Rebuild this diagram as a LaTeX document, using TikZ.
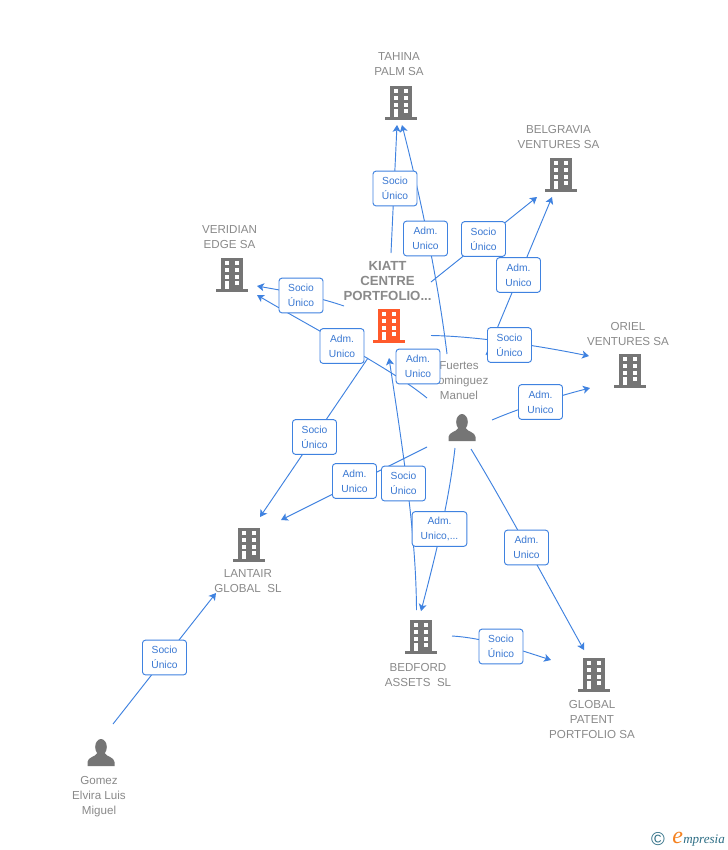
\documentclass[tikz,border=0pt]{standalone}
\usepackage{fontspec}
\setmainfont{Liberation Sans}
\newfontfamily\logofont{Liberation Serif}
\usetikzlibrary{arrows.meta}
\pgfdeclarelayer{back}
\pgfsetlayers{back,main}
\definecolor{linkblue}{HTML}{3F82E0}
\definecolor{labelblue}{HTML}{3A78D2}
\definecolor{icongrey}{HTML}{757575}
\definecolor{textgrey}{HTML}{8A8A8A}
\definecolor{hotorange}{HTML}{FF5A2B}
\definecolor{logoteal}{HTML}{2F6F86}
\definecolor{logoorange}{HTML}{F58220}
\tikzset{
  x=0.75pt,y=-0.75pt,
  conn/.style={draw=linkblue,line width=0.7pt},
  arrowconn/.style={conn,-{Stealth[length=5.2pt,width=6pt,inset=1.3pt]}},
  labelbox/.style={draw=linkblue,line width=0.7pt,fill=white,rounded corners=2.2pt,
    minimum width=33pt,minimum height=26pt,inner sep=0pt,align=center,
    text=labelblue,font=\fontsize{7.7}{11.2}\selectfont},
  widebox/.style={labelbox,minimum width=41pt},
  nametext/.style={align=center,text=textgrey,inner sep=0pt,font=\fontsize{8.7}{11.25}\selectfont},
  hotname/.style={align=center,text=textgrey,inner sep=0pt,font=\fontsize{9.9}{11.3}\selectfont\bfseries},
  bldg/.pic={
    \fill[pic actions] (-16,-3) rectangle (16,0);
    \fill[pic actions] (-11,-34.5) rectangle (11,-1);
    \foreach \yy in {-31,-24,-17}{
      \fill[white] (-7.5,\yy) rectangle (-3,\yy+4);
      \fill[white] (2.5,\yy) rectangle (7,\yy+4);
    }
    \fill[white] (2.5,-11) rectangle (7,-7);
    \fill[white] (-7.5,-11.5) rectangle (-3,-3);
  },
  personicon/.pic={
    \fill[pic actions] (0,-19) ellipse (5.8 and 8);
    \fill[pic actions] (-13.5,0) -- (-13.5,-4) .. controls (-13,-9) and (-6,-9) .. (-3.5,-13)
      -- (3.5,-13) .. controls (6,-9) and (13,-9) .. (13.5,-4) -- (13.5,0) -- cycle;
  }
}
\begin{document}
\begin{tikzpicture}
\useasboundingbox (0,0) rectangle (728,850);
\begin{pgfonlayer}{back}
\fill[white] (0,0) rectangle (728,850);
\end{pgfonlayer}

% icons
\pic[icongrey] (tahinaicon) at (401,120) {bldg};
\pic[icongrey] (belgraviaicon) at (561,192) {bldg};
\pic[icongrey] (veridianicon) at (232,292) {bldg};
\pic[hotorange] (kiatticon) at (389,343) {bldg};
\pic[icongrey] (orielicon) at (630,388) {bldg};
\pic[icongrey] (lantairicon) at (249,562) {bldg};
\pic[icongrey] (bedfordicon) at (421,654) {bldg};
\pic[icongrey] (globalicon) at (594,692) {bldg};
\pic[icongrey] (fuertesicon) at (462,441) {personicon};
\pic[icongrey] (gomezicon) at (101,766) {personicon};

% names
\node[nametext] (tahina) at (399,64.500) {TAHINA\\PALM SA};
\node[nametext] (belgravia) at (558.500,137.500) {BELGRAVIA\\VENTURES SA};
\node[nametext] (veridian) at (229.500,237.500) {VERIDIAN\\EDGE SA};
\node[hotname] (kiatt) at (387.500,281) {KIATT\\CENTRE\\PORTFOLIO...};
\node[nametext] (oriel) at (628,333.500) {ORIEL\\VENTURES SA};
\node[nametext] (fuertes) at (459,380.500) {Fuertes\\Dominguez\\Manuel};
\node[nametext] (lantair) at (248,581) {LANTAIR\\GLOBAL\ \ SL};
\node[nametext] (bedford) at (418,675) {BEDFORD\\ASSETS\ \ SL};
\node[nametext] (globalpatent) at (592,719.500) {GLOBAL\\PATENT\\PORTFOLIO SA};
\node[nametext] (gomez) at (99,796.500) {Gomez\\Elvira Luis\\Miguel};

% labels
\node[labelbox] (l1) at (395,188.500) {Socio\\Único};
\node[labelbox] (l2) at (425.500,238.500) {Adm.\\Unico};
\node[labelbox] (l3) at (483.500,239) {Socio\\Único};
\node[labelbox] (l4) at (518.500,275) {Adm.\\Unico};
\node[labelbox] (l5) at (509.500,345) {Socio\\Único};
\node[labelbox] (l6) at (540.500,402) {Adm.\\Unico};
\node[labelbox] (l7) at (301,295.500) {Socio\\Único};
\node[labelbox] (l8) at (342,346) {Adm.\\Unico};
\node[labelbox] (l9) at (418,366.500) {Adm.\\Unico};
\node[labelbox] (l10) at (314.500,437) {Socio\\Único};
\node[labelbox] (l11) at (354.500,481) {Adm.\\Unico};
\node[labelbox] (l12) at (403.500,483.500) {Socio\\Único};
\node[widebox] (l13) at (439.500,529) {Adm.\\Unico,...};
\node[labelbox] (l14) at (526.500,547.500) {Adm.\\Unico};
\node[labelbox] (l15) at (501,646.500) {Socio\\Único};
\node[labelbox] (l16) at (164.500,657.500) {Socio\\Único};

% connector ends
\coordinate (a1) at (391,253);   \coordinate (b1) at (397,125);
\coordinate (a2) at (447,354);   \coordinate (b2) at (402,125);
\coordinate (a3) at (431,282);   \coordinate (b3) at (537,197);
\coordinate (a4) at (486,355);   \coordinate (b4) at (552,197);
\coordinate (a5) at (431,335.500); \coordinate (b5) at (589,356);
\coordinate (a6) at (492,420);   \coordinate (b6) at (590,388);
\coordinate (a7) at (344,306);   \coordinate (b7) at (257,286);
\coordinate (a8) at (427,398);   \coordinate (b8) at (257,295);
\coordinate (a9) at (368,358);   \coordinate (b9) at (260,517);
\coordinate (a11) at (427,447);  \coordinate (b11) at (281,520);
\coordinate (a12) at (416.500,610);  \coordinate (b12) at (389,358);
\coordinate (a13) at (455,448);  \coordinate (b13) at (421,611);
\coordinate (a14) at (471,449);  \coordinate (b14) at (584,650);
\coordinate (a15) at (452,636);  \coordinate (b15) at (551,660);
\coordinate (a16) at (113,724);  \coordinate (b16) at (216,593);

\begin{pgfonlayer}{back}
\draw[arrowconn] (a1) -- (b1);
\draw[arrowconn] (a2) .. controls (438,280) and (420,195) .. (b2);
\draw[arrowconn] (a3) -- (b3);
\draw[arrowconn] (a4) -- (b4);
\draw[arrowconn] (a5) .. controls (470,336) and (530,344) .. (b5);
\draw[arrowconn] (a6) .. controls (520,408) and (555,397) .. (b6);
\draw[arrowconn] (a7) .. controls (315,296) and (285,291) .. (b7);
\draw[arrowconn] (a8) .. controls (390,368) and (325,335) .. (b8);
\draw[arrowconn] (a9) -- (b9);
\draw[arrowconn] (a11) -- (b11);
\draw[arrowconn] (a12) .. controls (416,540) and (406,470) .. (b12);
\draw[arrowconn] (a13) .. controls (449,500) and (437,550) .. (b13);
\draw[arrowconn] (a14) .. controls (505,505) and (545,580) .. (b14);
\draw[arrowconn] (a15) .. controls (485,638) and (520,650) .. (b15);
\draw[arrowconn] (a16) -- (b16);
\end{pgfonlayer}

% logo
\node[text=logoteal,inner sep=0pt,font=\fontsize{14}{14}\selectfont] (copy) at (658,839) {©};
\node[anchor=base west,inner sep=0pt,text=logoorange,font=\logofont\itshape\fontsize{18}{18}\selectfont] (logoe) at (672,843) {e};
\node[anchor=base west,inner sep=0pt,text=logoteal,font=\logofont\itshape\fontsize{9.8}{9.8}\selectfont] (logotext) at (683,843) {mpresia};
\end{tikzpicture}
\end{document}
